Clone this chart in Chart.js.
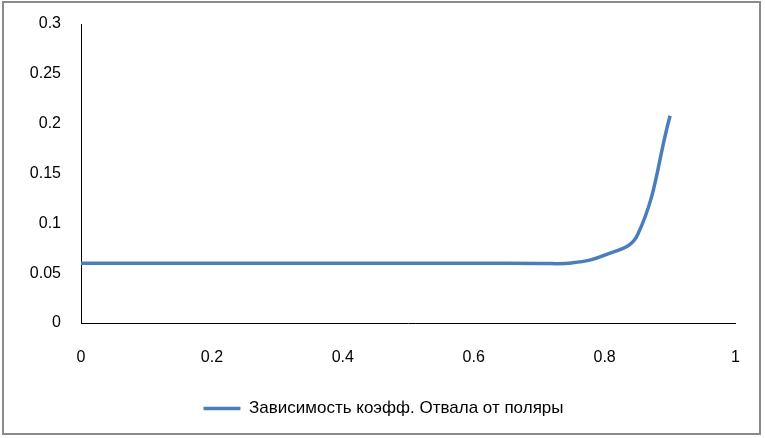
<!DOCTYPE html>
<html>
<head>
<meta charset="utf-8">
<script src="https://cdn.jsdelivr.net/npm/chart.js@4"></script>
<style>
  html, body { margin: 0; padding: 0; background: #fff; }
  #wrap { position: relative; width: 765px; height: 438px; }
  #frame { position: absolute; left: 2px; top: 1px; width: 759px; height: 434px; border: 2px solid #8a8a8a; box-sizing: border-box; pointer-events: none; }
  canvas { position: absolute; left: 0; top: 0; }
</style>
</head>
<body>
<div id="wrap">
  <canvas id="myChart" width="765" height="438"></canvas>
  <div id="frame"></div>
</div>
<script>
var xValues = [0, 0.1, 0.2, 0.3, 0.4, 0.5, 0.6, 0.7, 0.75, 0.8, 0.85, 0.9];
var yValues = [0.06, 0.06, 0.06, 0.06, 0.06, 0.06, 0.06, 0.0598, 0.0603, 0.068, 0.088, 0.208];
var seriesLabel = 'Зависимость коэфф. Отвала от поляры';

var points = xValues.map(function (x, i) { return { x: x, y: yValues[i] }; });

function tickText(value) {
    return String(parseFloat(value.toFixed(2)));
}

var ctx = document.getElementById('myChart').getContext('2d');
var chart = new Chart(ctx, {
    type: 'scatter',
    data: {
        datasets: [{
            label: seriesLabel,
            data: points,
            showLine: true,
            borderColor: '#4a7ebb',
            backgroundColor: '#4a7ebb',
            borderWidth: 3.5,
            pointRadius: 0,
            tension: 0.4
        }]
    },
    options: {
        responsive: false,
        animation: false,
        layout: { padding: { left: 20, right: 18, top: 10, bottom: 11 } },
        plugins: {
            legend: {
                position: 'bottom',
                labels: {
                    usePointStyle: true,
                    pointStyle: 'line',
                    pointStyleWidth: 37,
                    color: '#000',
                    font: { family: 'Liberation Sans', size: 17 }
                }
            },
            tooltip: { enabled: false }
        },
        scales: {
            x: {
                min: 0,
                max: 1,
                grid: { display: false, drawTicks: false },
                border: { color: '#000', width: 1 },
                ticks: {
                    stepSize: 0.2,
                    padding: 25,
                    color: '#000',
                    font: { family: 'Liberation Sans', size: 16 },
                    callback: tickText
                },
                afterFit: function (scale) { scale.height = 67; }
            },
            y: {
                min: 0,
                max: 0.3,
                grid: { display: false, drawTicks: false },
                border: { color: '#000', width: 1 },
                ticks: {
                    stepSize: 0.05,
                    padding: 20,
                    color: '#000',
                    font: { family: 'Liberation Sans', size: 16, lineHeight: 0.5 },
                    callback: tickText
                },
                afterFit: function (scale) { scale.width = 61; }
            }
        }
    }
});
</script>
</body>
</html>
